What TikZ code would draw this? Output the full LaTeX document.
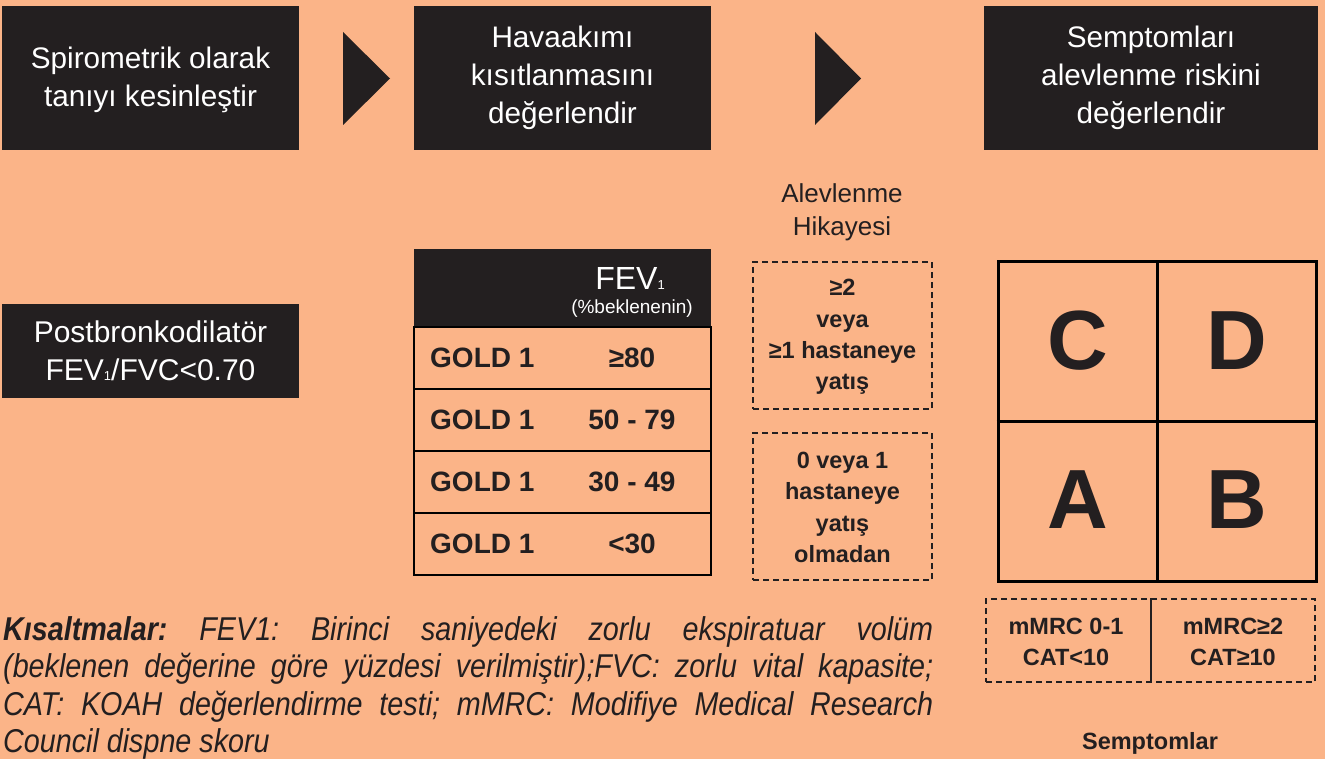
\documentclass[tikz,border=0pt]{standalone}
\usepackage{fontspec}
\usetikzlibrary{calc}
\setmainfont{Liberation Sans}
\newfontfamily\condit[FakeStretch=0.87]{Liberation Sans}
\definecolor{bgc}{RGB}{251,180,136}
\definecolor{darkc}{RGB}{35,31,32}
\frenchspacing
\tikzset{
  darkbox/.style={fill=darkc,text=white,align=center,inner sep=0pt,font=\fontsize{29.7}{38}\selectfont},
  rowbox/.style={draw=black,line width=2pt,fill=bgc,minimum width=297pt,minimum height=62pt,inner sep=0pt},
  rowtxt/.style={font=\bfseries\fontsize{28}{28}\selectfont,text=darkc,inner sep=0pt},
  dbox/.style={draw=darkc,line width=1.6pt,dash pattern=on 6pt off 4pt,inner sep=0pt},
  dtxt/.style={align=center,font=\bfseries\fontsize{23.5}{31.3}\selectfont,text=darkc,inner sep=0pt},
  letter/.style={font=\bfseries\fontsize{84}{84}\selectfont,text=darkc,inner sep=0pt},
  plain/.style={font=\fontsize{26}{33}\selectfont,text=darkc,align=center,inner sep=0pt},
}
\newcommand{\subone}{{\fontsize{13}{13}\selectfont 1}}
\begin{document}
\begin{tikzpicture}[x=1pt,y=-1pt]
\fill[bgc] (0,0) rectangle (1325,759);
\useasboundingbox (0,0) rectangle (1325,759);
% top boxes
\node[darkbox,minimum width=297pt,minimum height=144pt] (b1) at (150.5,78) {};
\node[darkbox] (b1t) at (150.5,80) {Spirometrik olarak\\tanıyı kesinleştir};
\node[darkbox,minimum width=297pt,minimum height=144pt] (b2) at (562.5,78) {Havaakımı\\kısıtlanmasını\\değerlendir};
\node[darkbox,minimum width=334pt,minimum height=144pt] (b3) at (1151,78) {Semptomları\\alevlenme riskini\\değerlendir};
\fill[darkc] (343,32) -- (390,78.5) -- (343,125) -- cycle;
\fill[darkc] (815,32) -- (861,78.5) -- (815,125) -- cycle;
% postbronkodilator
\node[darkbox,minimum width=297pt,minimum height=94pt,font=\fontsize{30}{38}\selectfont] (pb) at (150.5,351) {Postbronkodilatör\\FEV\subone/FVC<0.70};
% table
\node[fill=darkc,minimum width=297pt,minimum height=78pt,inner sep=0pt] (th) at (562.5,288) {};
\node[text=white,font=\fontsize{32}{32}\selectfont,inner sep=0pt] (fev) at (630,278) {FEV\subone};
\node[text=white,font=\fontsize{19}{19}\selectfont,inner sep=0pt] (bek) at (632,309) {(\%beklenenin)};
\node[rowbox] (r1) at (562.5,358) {};
\node[rowbox] (r2) at (562.5,420) {};
\node[rowbox] (r3) at (562.5,482) {};
\node[rowbox] (r4) at (562.5,544) {};
\node[rowtxt,anchor=west] (g1) at (430,358) {GOLD 1};
\node[rowtxt,anchor=west] (g2) at (430,420) {GOLD 1};
\node[rowtxt,anchor=west] (g3) at (430,482) {GOLD 1};
\node[rowtxt,anchor=west] (g4) at (430,544) {GOLD 1};
\node[rowtxt] (v1) at (632,358) {≥80};
\node[rowtxt] (v2) at (632,420) {50 - 79};
\node[rowtxt] (v3) at (632,482) {30 - 49};
\node[rowtxt] (v4) at (632,544) {<30};
% exacerbation history
\node[plain] (alev) at (842,212) {Alevlenme\\Hikayesi};
\node[dbox,minimum width=179pt,minimum height=147pt] (e1) at (842.5,335.5) {};
\node[dtxt] (e1t) at (842.5,337) {≥2\\veya\\≥1 hastaneye\\yatış};
\node[dbox,minimum width=179pt,minimum height=147pt] (e2) at (842.5,506.5) {};
\node[dtxt] (e2t) at (842.5,507.5) {0 veya 1\\hastaneye\\yatış\\olmadan};
% grid
\node[draw=black,line width=3pt,minimum width=318pt,minimum height=319pt,inner sep=0pt] (grid) at (1157,421.5) {};
\draw[line width=3pt] (grid.north) -- (grid.south);
\draw[line width=3pt] (grid.west) -- (grid.east);
\node[letter] (C) at (1078,341) {C};
\node[letter] (D) at (1237,341) {D};
\node[letter] (A) at (1078,500) {A};
\node[letter] (B) at (1237,500) {B};
% symptoms
\node[dbox,minimum width=329pt,minimum height=83pt] (sy) at (1150.5,640.5) {};
\draw[line width=2pt,darkc] ($(sy.north)+(0.5,0)$) -- ($(sy.south)+(0.5,0)$);
\node[dtxt] (s1) at (1066,642) {mMRC 0-1\\CAT<10};
\node[dtxt] (s2) at (1233,642) {mMRC≥2\\CAT≥10};
\node[font=\bfseries\fontsize{23.5}{23.5}\selectfont,text=darkc,inner sep=0pt] (semp) at (1150,743) {Semptomlar};
% abbreviations
\node[anchor=north west,inner sep=0pt,text width=930pt,align=justify,text=darkc,font=\condit\itshape\fontsize{33}{37.6}\selectfont] (abbr) at (3,616) {%
{\bfseries Kısaltmalar:} FEV1: Birinci saniyedeki zorlu ekspiratuar volüm\linebreak
(beklenen değerine göre yüzdesi verilmiştir);FVC: zorlu vital kapasite;\linebreak
CAT: KOAH değerlendirme testi; mMRC: Modifiye Medical Research\linebreak
Council dispne skoru};
\end{tikzpicture}
\end{document}
